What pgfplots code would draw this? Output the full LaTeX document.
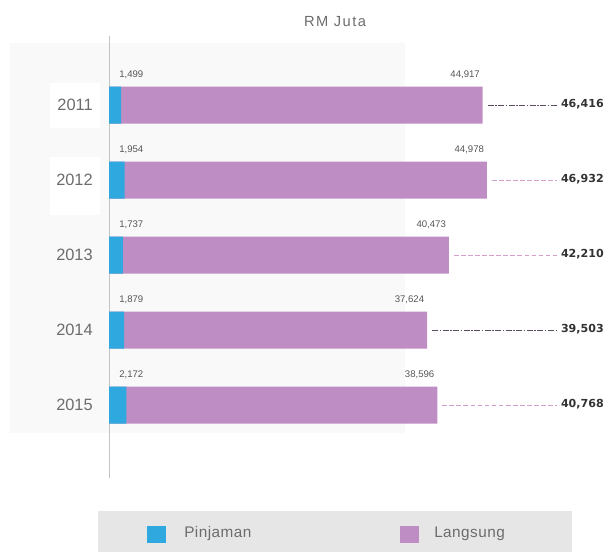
\documentclass[border=0pt]{standalone}
\usepackage{fontspec}
\setmainfont{Liberation Sans}
\newfontfamily\totfont{DejaVu Sans}
\usepackage{pgfplots}
\usepackage{pgfplotstable}
\pgfplotsset{compat=1.18}
\definecolor{pinblue}{HTML}{2FA8DF}
\definecolor{langpurple}{HTML}{BE8DC3}
\definecolor{txtgrey}{HTML}{555555}
\definecolor{lightink}{HTML}{6C6C6C}
\definecolor{totink}{HTML}{333333}
\definecolor{legbg}{HTML}{E6E6E6}
\definecolor{axgrey}{HTML}{C4C4C4}
\definecolor{wmark}{HTML}{F9F9F9}
\definecolor{darklead}{HTML}{5B4B5E}
\definecolor{pinklead}{HTML}{D49ECB}

\pgfplotstableread{
year pin  lang  total
2011 1499 44917 46416
2012 1954 44978 46932
2013 1737 40473 42210
2014 1879 37624 39503
2015 2172 38596 40768
}\loandata

\pgfplotsset{
    valnum/.style={
        nodes near coords={\pgfmathprintnumber[fixed,precision=0,1000 sep={,},assume math mode=true]{\pgfplotspointmeta}},
    },
    darkline/.style={darklead, line width=0.7pt, dash pattern=on 4.5pt off 1.2pt on 1pt off 1.2pt, forget plot},
    pinkline/.style={pinklead, line width=0.7pt, dash pattern=on 3.5pt off 1.8pt, forget plot},
}

\begin{document}
\begin{tikzpicture}
\useasboundingbox (0pt,0pt) rectangle (454.5pt,-413.25pt);

% faint watermark behind the plot
\fill[wmark] (7.5pt,-32.25pt) rectangle (303.75pt,-325pt);
\fill[white] (37.5pt,-62.25pt) rectangle (75pt,-96pt);
\fill[white] (37.5pt,-118pt) rectangle (75pt,-161pt);

% legend panel
\fill[legbg] (73.5pt,-383.25pt) rectangle (429pt,-415pt);
\fill[pinblue] (110.25pt,-394.5pt) rectangle (124.5pt,-407.25pt);
\fill[langpurple] (300pt,-394.5pt) rectangle (314.25pt,-407.25pt);
\node[anchor=west, inner sep=0pt, text=lightink, font=\fontsize{11.5}{13}\selectfont\addfontfeatures{LetterSpace=3}] at (138pt,-400.5pt) {Pinjaman};
\node[anchor=west, inner sep=0pt, text=lightink, font=\fontsize{11.5}{13}\selectfont\addfontfeatures{LetterSpace=3}] at (325.5pt,-400.5pt) {Langsung};

% unit title
\node[inner sep=0pt, text=lightink, font=\fontsize{11}{13}\selectfont\addfontfeatures{LetterSpace=10}] at (251.25pt,-16.5pt) {RM Juta};

\begin{axis}[
    at={(81.75pt,-27pt)}, anchor=north west,
    scale only axis,
    width=372.75pt, height=331.5pt,
    xmin=0, xmax=61727,
    ymin=2010.08, ymax=2015.973,
    y dir=reverse,
    hide x axis,
    axis y line*=left,
    y axis line style={draw=axgrey, line width=0.75pt},
    ytick={2011,2012,2013,2014,2015},
    yticklabels={2011,2012,2013,2014,2015},
    major tick length=0pt,
    ytick style={draw=none},
    yticklabel style={inner sep=0pt, xshift=-12pt, text=lightink, font=\fontsize{12.3}{14}\selectfont},
    clip=false,
]
% bars: Langsung drawn to the total, Pinjaman on top from zero
\addplot[xbar, bar width=27.75pt, bar shift=0pt, fill=langpurple, draw=none]
    table[x=total, y=year] {\loandata};
\addplot[xbar, bar width=27.75pt, bar shift=0pt, fill=pinblue, draw=none]
    table[x=pin, y=year] {\loandata};

% value labels above the bars
\addplot[draw=none, forget plot, valnum, point meta=\thisrow{pin},
    every node near coord/.append style={anchor=west, inner sep=0pt, xshift=7.5pt, yshift=22.5pt,
        text=txtgrey, font=\fontsize{7.2}{8}\selectfont}]
    table[x expr=0, y=year] {\loandata};
\addplot[draw=none, forget plot, valnum, point meta=\thisrow{lang},
    every node near coord/.append style={anchor=east, inner sep=0pt, xshift=-2pt, yshift=22.5pt,
        text=txtgrey, font=\fontsize{7.2}{8}\selectfont}]
    table[x=total, y=year] {\loandata};

% totals on the right
\addplot[draw=none, forget plot, valnum, point meta=\thisrow{total},
    every node near coord/.append style={anchor=east, inner sep=0pt, yshift=0.75pt,
        text=totink, font=\totfont\bfseries\fontsize{8.3}{10}\selectfont}]
    table[x expr=61479, y=year] {\loandata};

% leader lines
\addplot[darkline] coordinates {(47036,2011) (55642,2011)};
\addplot[pinkline] coordinates {(47552,2012) (55642,2012)};
\addplot[pinkline] coordinates {(42830,2013) (55642,2013)};
\addplot[darkline] coordinates {(40123,2014) (55642,2014)};
\addplot[pinkline] coordinates {(41388,2015) (55642,2015)};
\end{axis}
\end{tikzpicture}
\end{document}
